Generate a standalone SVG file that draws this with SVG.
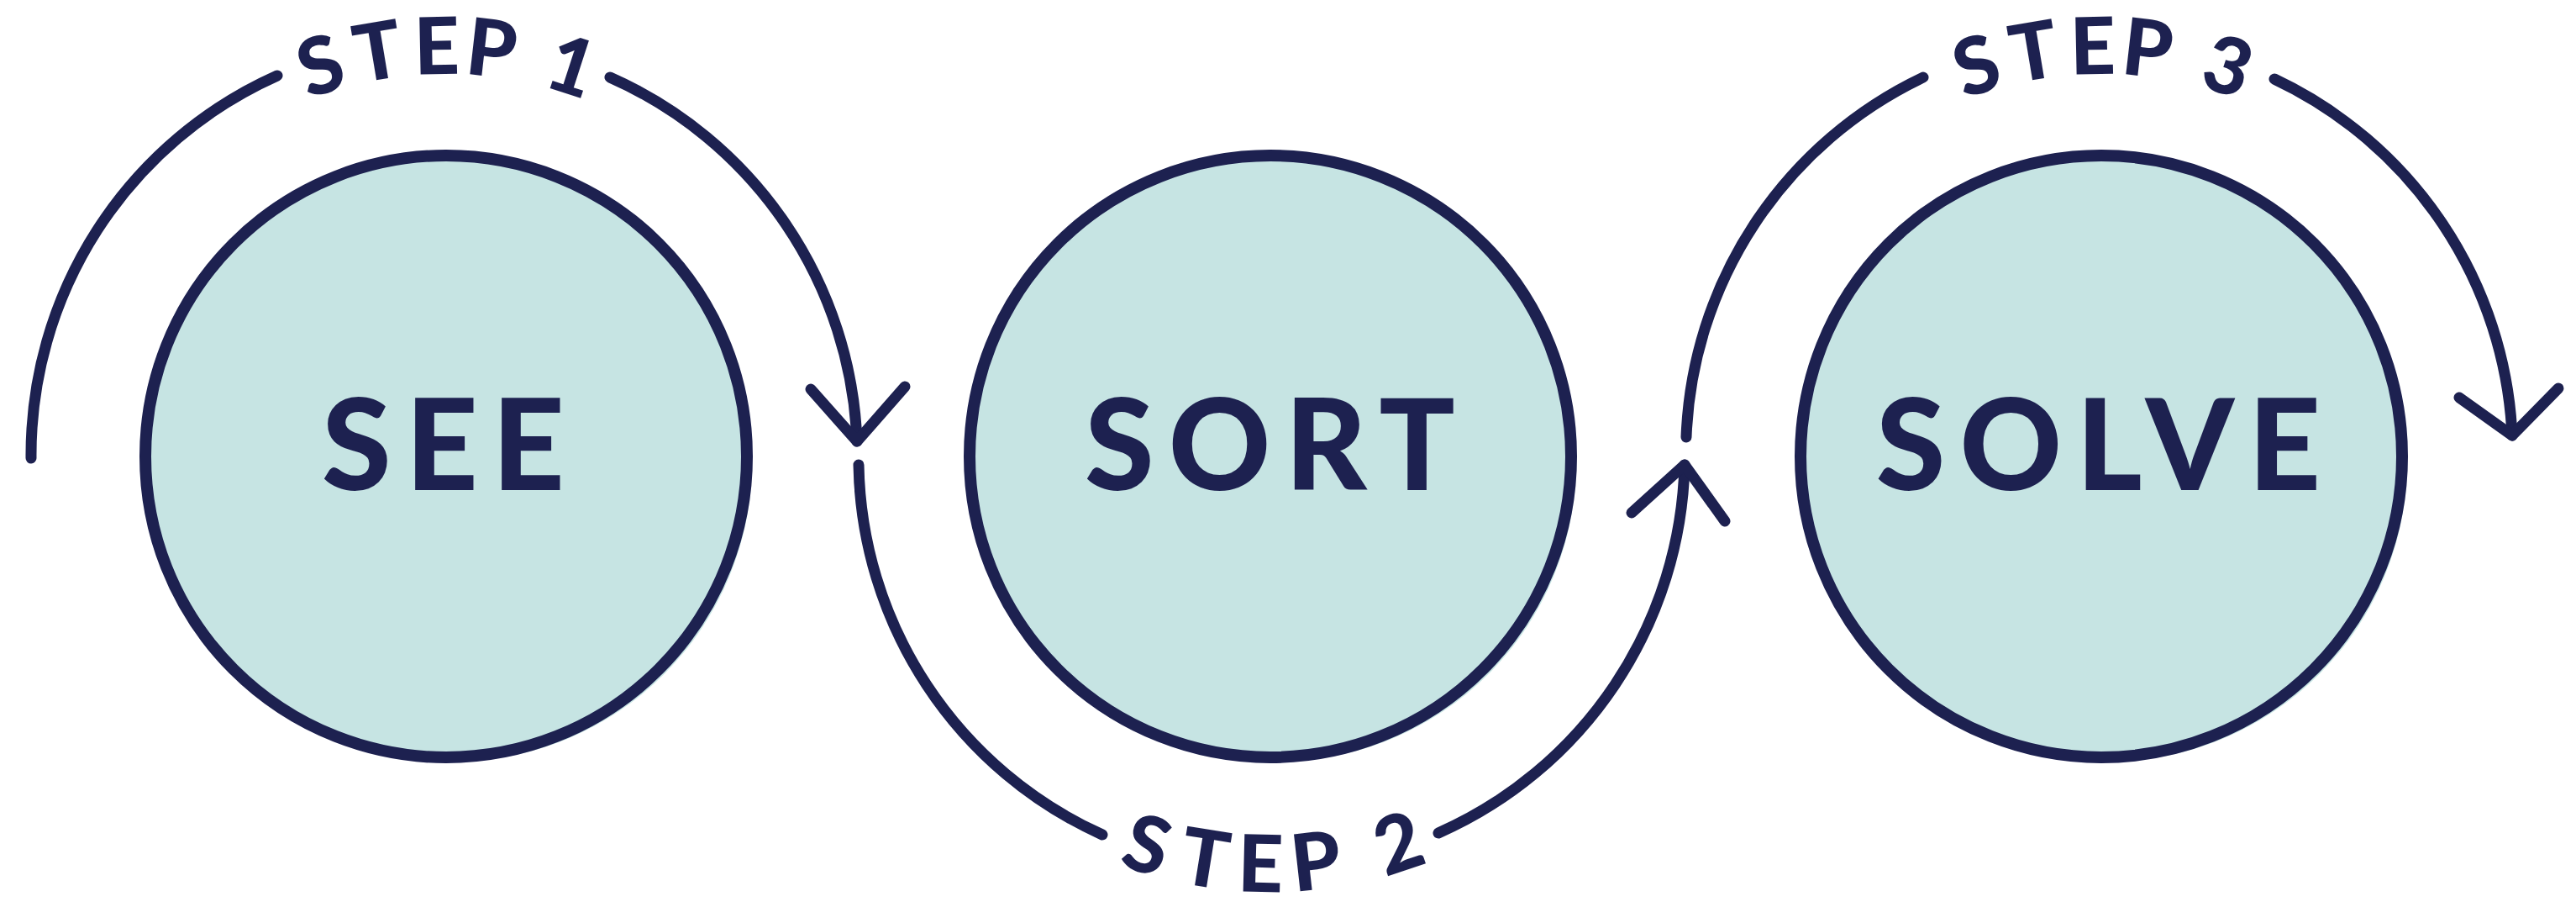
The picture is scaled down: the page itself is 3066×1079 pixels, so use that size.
<svg xmlns="http://www.w3.org/2000/svg" width="3066" height="1079" viewBox="0 0 3066 1079">
  <style>
    .bg { fill: #ffffff; }
    .halo { fill: #c6e4e3; stroke: none; }
    .node { fill: #c6e4e3; stroke: #1d2150; stroke-width: 14; }
    .label { font-family: Lato, "Noto Sans", "Liberation Sans", sans-serif; font-weight: 900; font-size: 150px; fill: #1d2150; text-anchor: middle; letter-spacing: 17px; }
    .arc { fill: none; stroke: #1d2150; stroke-width: 13; stroke-linecap: round; stroke-linejoin: round; }
    .step { font-family: Lato, "Noto Sans", "Liberation Sans", sans-serif; font-weight: 900; font-size: 94px; fill: #1d2150; text-anchor: middle; }
  </style>
  <rect class="bg" x="0" y="0" width="3066" height="1079"/>

  <g id="node-see">
    <circle class="halo" cx="539" cy="550" r="356"/>
    <circle class="node" cx="531" cy="543" r="358"/>
    <text class="label" x="536" y="583">SEE</text>
  </g>
  <g id="node-sort">
    <circle class="halo" cx="1520" cy="550" r="356"/>
    <circle class="node" cx="1512" cy="543" r="358"/>
    <text class="label" x="1520" y="583">SORT</text>
  </g>
  <g id="node-solve">
    <circle class="halo" cx="2509" cy="550" r="356"/>
    <circle class="node" cx="2501" cy="543" r="358"/>
    <text class="label" x="2506" y="583">SOLVE</text>
  </g>

  <g id="connectors">
    <g id="step1">
      <path class="arc" d="M 37 545 A 494 494 0 0 1 330 90"/>
      <path class="arc" d="M 726 92 A 494 494 0 0 1 1020 525"/>
      <polyline class="arc" points="965,463 1020,525 1077,460"/>
      <text class="step" x="391.5" y="109.6" transform="rotate(-17.7 391.5 109.6)">S</text>
      <text class="step" x="455.1" y="94.2" transform="rotate(-9.5 455.1 94.2)">T</text>
      <text class="step" x="520.6" y="88.1" transform="rotate(-1.2 520.6 88.1)">E</text>
      <text class="step" x="581.5" y="90.9" transform="rotate(6.5 581.5 90.9)">P</text>
      <text class="step" x="670.4" y="110.2" transform="rotate(18 670.4 110.2)">1</text>
    </g>
    <g id="step2">
      <path class="arc" d="M 1022 553 A 492 492 0 0 0 1312 993"/>
      <path class="arc" d="M 1712 991 A 492 492 0 0 0 2005 553"/>
      <polyline class="arc" points="1942,610 2005,553 2053,620"/>
      <text class="step" x="1355.5" y="1036.8" transform="rotate(17.6 1355.5 1036.8)">S</text>
      <text class="step" x="1429" y="1054.3" transform="rotate(9.2 1429 1054.3)">T</text>
      <text class="step" x="1499.4" y="1060.8" transform="rotate(1.4 1499.4 1060.8)">E</text>
      <text class="step" x="1569.8" y="1057.8" transform="rotate(-6.4 1569.8 1057.8)">P</text>
      <text class="step" x="1674.9" y="1034.7" transform="rotate(-18.3 1674.9 1034.7)">2</text>
    </g>
    <g id="step3">
      <path class="arc" d="M 2007 520 A 494 494 0 0 1 2289 92"/>
      <path class="arc" d="M 2707 94 A 494 494 0 0 1 2990 518"/>
      <polyline class="arc" points="2927,473 2990,518 3045,462"/>
      <text class="step" x="2362.5" y="109.6" transform="rotate(-17.7 2362.5 109.6)">S</text>
      <text class="step" x="2426.1" y="94.2" transform="rotate(-9.5 2426.1 94.2)">T</text>
      <text class="step" x="2491.6" y="88.1" transform="rotate(-1.2 2491.6 88.1)">E</text>
      <text class="step" x="2552.5" y="90.9" transform="rotate(6.5 2552.5 90.9)">P</text>
      <text class="step" x="2641.4" y="110.2" transform="rotate(18 2641.4 110.2)">3</text>
    </g>
  </g>
</svg>
